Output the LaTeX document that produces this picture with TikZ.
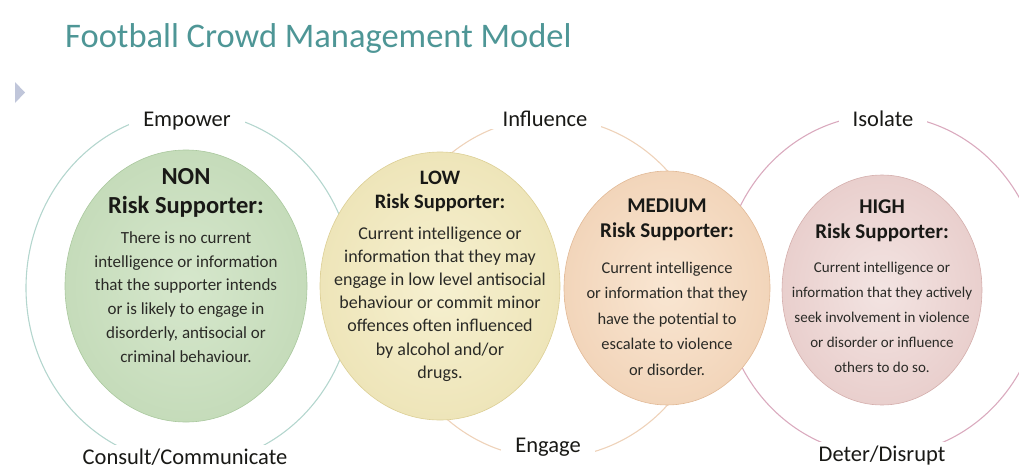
\documentclass[tikz,border=0pt]{standalone}
\usepackage{fontspec}
\setmainfont{Carlito}
\usetikzlibrary{shapes.geometric}

\definecolor{titleteal}{RGB}{78,150,150}
\definecolor{markergrey}{RGB}{192,198,218}
\definecolor{textdark}{RGB}{25,25,22}
\definecolor{bodygrey}{RGB}{42,42,38}
\definecolor{ringgreen}{RGB}{180,214,206}
\definecolor{ringorange}{RGB}{238,210,185}
\definecolor{ringpink}{RGB}{218,170,190}
\definecolor{noninner}{RGB}{214,231,204}
\definecolor{nonouter}{RGB}{180,208,168}
\definecolor{nonedge}{RGB}{170,200,158}
\definecolor{lowinner}{RGB}{246,240,208}
\definecolor{lowouter}{RGB}{230,218,162}
\definecolor{lowedge}{RGB}{220,207,150}
\definecolor{medinner}{RGB}{249,230,210}
\definecolor{medouter}{RGB}{235,196,162}
\definecolor{mededge}{RGB}{225,185,150}
\definecolor{highinner}{RGB}{243,228,226}
\definecolor{highouter}{RGB}{223,186,184}
\definecolor{highedge}{RGB}{212,174,172}

\pgfdeclareradialshading{nonglow}{\pgfpoint{0bp}{0bp}}{color(0bp)=(noninner); color(50bp)=(nonouter)}
\pgfdeclareradialshading{lowglow}{\pgfpoint{0bp}{0bp}}{color(0bp)=(lowinner); color(50bp)=(lowouter)}
\pgfdeclareradialshading{medglow}{\pgfpoint{0bp}{0bp}}{color(0bp)=(medinner); color(50bp)=(medouter)}
\pgfdeclareradialshading{highglow}{\pgfpoint{0bp}{0bp}}{color(0bp)=(highinner); color(50bp)=(highouter)}

\tikzset{
  ringshape/.style={ellipse, inner sep=0pt, line width=1.1pt},
  riskcircle/.style={ellipse, inner sep=0pt, line width=0.6pt},
  riskhead/.style={align=center, text=textdark, inner sep=0pt},
  riskbody/.style={align=center, text=bodygrey, inner sep=0pt},
  phase/.style={fill=white, text=textdark, inner xsep=14pt, inner ysep=3pt,
    font=\fontsize{22.5}{27}\selectfont},
}

\begin{document}
\begin{tikzpicture}[x=1pt, y=-1pt]
    \useasboundingbox (0,0) rectangle (1019,471);

    % Title
    \node[anchor=base west, inner sep=0pt, text=titleteal, font=\fontsize{34.5}{40}\selectfont] (title) at (65,47) {Football Crowd Management Model};
    \fill[markergrey] (15,82) -- (25,92.5) -- (15,103) -- cycle;

    % Outer rings
    \node[ringshape, draw=ringgreen, minimum width=328pt, minimum height=352pt] (nonring) at (190,288) {};
    \node[ringshape, draw=ringorange, minimum width=324pt, minimum height=340pt] (lowring) at (550,288) {};
    \node[ringshape, draw=ringpink, minimum width=320pt, minimum height=340pt] (highring) at (882,285) {};

    % Risk circles
    \node[riskcircle, shading=nonglow, draw=nonedge, minimum width=242pt, minimum height=272pt] (non) at (186,286) {};
    \node[riskcircle, shading=lowglow, draw=lowedge, minimum width=240pt, minimum height=268pt] (low) at (440,286) {};
    \node[riskcircle, shading=medglow, draw=mededge, minimum width=206pt, minimum height=234pt] (medium) at (667,288) {};
    \node[riskcircle, shading=highglow, draw=highedge, minimum width=200pt, minimum height=230pt] (high) at (882,290) {};

    % NON risk
    \node[riskhead, font=\fontsize{24.5}{29}\selectfont\bfseries] (nonhead) at (186,192.5) {NON\\Risk Supporter:};
    \node[riskbody, font=\fontsize{17}{23.8}\selectfont] (nonbody) at (186,297) {There is no current\\intelligence or information\\that the supporter intends\\or is likely to engage in\\disorderly, antisocial or\\criminal behaviour.};

    % LOW risk
    \node[riskhead, font=\fontsize{20.5}{23.5}\selectfont\bfseries] (lowhead) at (440,191.5) {LOW\\Risk Supporter:};
    \node[riskbody, font=\fontsize{18}{23.2}\selectfont] (lowbody) at (440,304) {Current intelligence or\\information that they may\\engage in low level antisocial\\behaviour or commit minor\\offences often influenced\\by alcohol and/or\\drugs.};

    % MEDIUM risk
    \node[riskhead, font=\fontsize{21}{25}\selectfont\bfseries] (mediumhead) at (667,219.5) {MEDIUM\\Risk Supporter:};
    \node[riskbody, font=\fontsize{16.4}{25.5}\selectfont] (mediumbody) at (667,318.5) {Current intelligence\\or information that they\\have the potential to\\escalate to violence\\or disorder.};

    % HIGH risk
    \node[riskhead, font=\fontsize{21}{25}\selectfont\bfseries] (highhead) at (882,220.5) {HIGH\\Risk Supporter:};
    \node[riskbody, font=\fontsize{15}{25}\selectfont] (highbody) at (882,317) {Current intelligence or\\information that they actively\\seek involvement in violence\\or disorder or influence\\others to do so.};

    % Ring labels
    \node[phase, anchor=base] (empower) at (187,126) {Empower};
    \node[phase, anchor=base] (influence) at (545,126) {Influence};
    \node[phase, anchor=base] (isolate) at (883,126) {Isolate};
    \node[phase, anchor=base] (consult) at (185,464) {Consult/Communicate};
    \node[phase, anchor=base] (engage) at (548,452) {Engage};
    \node[phase, anchor=base] (deter) at (882,461) {Deter/Disrupt};
\end{tikzpicture}
\end{document}
